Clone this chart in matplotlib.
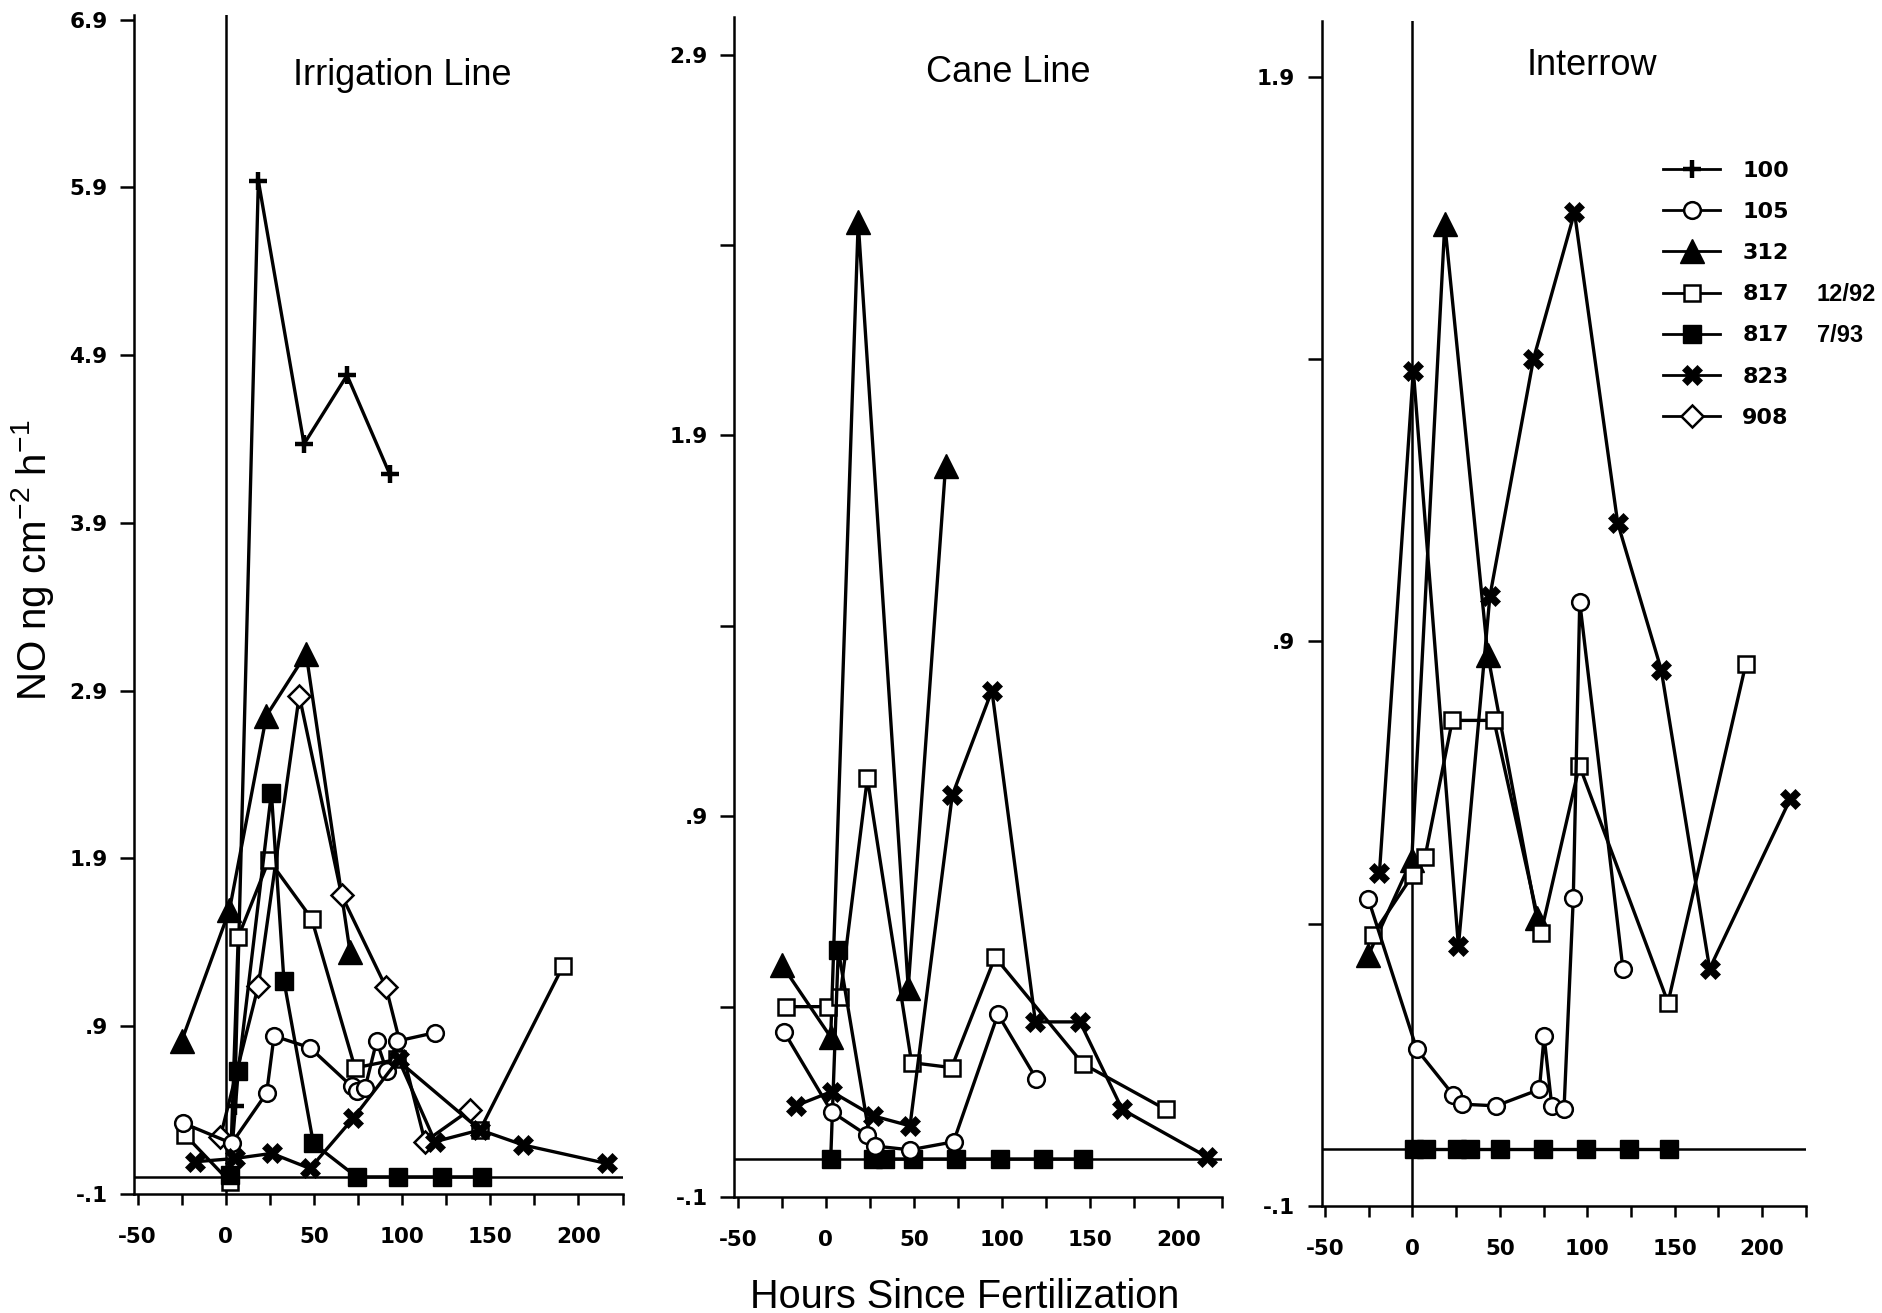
import matplotlib
matplotlib.use("Agg")
import matplotlib.pyplot as plt
from matplotlib.lines import Line2D

plt.rcParams['font.family'] = ['Liberation Sans', 'DejaVu Sans']
plt.rcParams['mathtext.fontset'] = 'custom'
plt.rcParams['mathtext.rm'] = 'Liberation Sans'
plt.rcParams['mathtext.default'] = 'regular'

# ---- data: hours since fertilization vs NO flux (ng cm-2 h-1) ----
# Irrigation Line
irr_100_x = [5, 18.5, 44.4, 68.8, 93]
irr_100_y = [0.42, 5.94, 4.37, 4.78, 4.19]
irr_105_x = [-24, 3.4, 23.2, 27.4, 47.8, 71.4, 74.2, 79, 85.6, 91.3, 97.3, 118.7]
irr_105_y = [0.32, 0.20, 0.50, 0.84, 0.77, 0.54, 0.51, 0.53, 0.81, 0.63, 0.81, 0.86]
irr_312_x = [-25, 2.1, 23.1, 45.6, 70.5]
irr_312_y = [0.81, 1.59, 2.75, 3.12, 1.34]
irr_817a_x = [-23, 2.4, 7.1, 24.5, 48.7, 73.3, 97, 144.2, 191.4]
irr_817a_y = [0.25, -0.03, 1.43, 1.89, 1.54, 0.65, 0.70, 0.28, 1.26]
irr_817b_x = [2.4, 7.1, 25.9, 33, 49.7, 74.2, 97.9, 122.4, 145.1]
irr_817b_y = [0.01, 0.63, 2.29, 1.17, 0.20, 0.0, 0.0, 0.0, 0.0]
irr_823_x = [-17.4, 5.3, 26.1, 47.8, 72.3, 98, 118.7, 144.2, 168.7, 216]
irr_823_y = [0.09, 0.11, 0.14, 0.05, 0.35, 0.70, 0.21, 0.28, 0.19, 0.08]
irr_908_x = [-3, 18.5, 41.7, 65.7, 90.9, 113, 138.5]
irr_908_y = [0.24, 1.14, 2.87, 1.68, 1.13, 0.21, 0.40]

# Cane Line
cane_105_x = [-23.7, 3.3, 23.2, 27.9, 47.8, 72.5, 97.7, 119.6]
cane_105_y = [0.334, 0.124, 0.063, 0.034, 0.024, 0.045, 0.38, 0.21]
cane_312_x = [-25, 2.8, 18.4, 46.8, 68]
cane_312_y = [0.51, 0.32, 2.46, 0.45, 1.82]
cane_817a_x = [-22.6, 1.4, 8.1, 23.6, 48.7, 71.4, 96.1, 145.9, 193]
cane_817a_y = [0.40, 0.40, 0.425, 1.00, 0.253, 0.24, 0.53, 0.25, 0.13]
cane_817b_x = [2.8, 7.1, 27, 33.6, 49.7, 74, 98.7, 123.4, 145.9]
cane_817b_y = [0.0, 0.55, 0.0, 0.0, 0.0, 0.0, 0.0, 0.0, 0.0]
cane_823_x = [-16.9, 3.3, 27, 47.8, 71.8, 94.3, 119, 144.3, 168.3, 216.6]
cane_823_y = [0.14, 0.177, 0.113, 0.087, 0.955, 1.23, 0.36, 0.36, 0.13, 0.005]

# Interrow
int_105_x = [-25.2, 2.5, 23.4, 28.2, 47.8, 72.6, 75.3, 79.7, 86.7, 92, 95.7, 120.4]
int_105_y = [0.443, 0.177, 0.096, 0.080, 0.077, 0.106, 0.20, 0.077, 0.071, 0.445, 0.97, 0.32]
int_312_x = [-25.2, -0.4, 18.5, 43.1, 71.1]
int_312_y = [0.344, 0.513, 1.64, 0.876, 0.41]
int_817a_x = [-22.7, 0.2, 7.2, 22.8, 46.6, 73.6, 95.5, 146.2, 190.7]
int_817a_y = [0.38, 0.486, 0.518, 0.76, 0.76, 0.384, 0.68, 0.26, 0.86]
int_817b_x = [1.0, 7.8, 25.5, 33, 49.8, 74.4, 99.4, 123.9, 146.9]
int_817b_y = [0.0, 0.0, 0.0, 0.0, 0.0, 0.0, 0.0, 0.0, 0.0]
int_823_x = [-18.9, 0.5, 26.3, 44.3, 69.2, 92.7, 117.4, 142.3, 170, 216]
int_823_y = [0.489, 1.38, 0.36, 0.98, 1.40, 1.66, 1.11, 0.85, 0.32, 0.62]

series_names = ['100', '105', '312', '817 12/92', '817 7/93', '823', '908']
legend_main = ['100', '105', '312', '817', '817', '823', '908']
legend_dates = {3: '12/92', 4: '7/93'}

x_major = [-50, 0, 50, 100, 150, 200]
x_major_labels = ['-50', '0', '50', '100', '150', '200']
x_minor = [-25, 25, 75, 125, 175, 225]

irr_yticks = [-0.1, 0.9, 1.9, 2.9, 3.9, 4.9, 5.9, 6.9]
irr_ylabels = ['-.1', '.9', '1.9', '2.9', '3.9', '4.9', '5.9', '6.9']
cane_yticks = [-0.1, 0.9, 1.9, 2.9]
cane_ylabels = ['-.1', '.9', '1.9', '2.9']
cane_yminor = [0.4, 1.4, 2.4]
int_yticks = [-0.1, 0.9, 1.9]
int_ylabels = ['-.1', '.9', '1.9']
int_yminor = [0.4, 1.4]

styles = {
    '100': dict(marker='+', ms=13, mew=3.2, mfc='black', mec='black'),
    '105': dict(marker='o', ms=12, mew=1.8, mfc='white', mec='black'),
    '312': dict(marker='^', ms=17, mew=1, mfc='black', mec='black'),
    '817 12/92': dict(marker='s', ms=12, mew=1.8, mfc='white', mec='black'),
    '817 7/93': dict(marker='s', ms=12.5, mew=1, mfc='black', mec='black'),
    '823': dict(marker='X', ms=14, mew=0.5, mfc='black', mec='black'),
    '908': dict(marker='D', ms=11, mew=1.8, mfc='white', mec='black'),
}

tick_font = dict(fontfamily='DejaVu Sans', fontweight='bold', fontsize=15.5)

fig = plt.figure(figsize=(18.82, 13.13), dpi=100)
ax1 = fig.add_axes([0.0712, 0.0909, 0.2596, 0.8979])
ax2 = fig.add_axes([0.3901, 0.0883, 0.2593, 0.8991])
ax3 = fig.add_axes([0.7022, 0.0817, 0.2573, 0.9026])


def draw(ax, name, x, y):
    ax.plot(x, y, color='black', lw=2.4, zorder=3, **styles[name])


draw(ax1, '100', irr_100_x, irr_100_y)
draw(ax1, '312', irr_312_x, irr_312_y)
draw(ax1, '908', irr_908_x, irr_908_y)
draw(ax1, '817 12/92', irr_817a_x, irr_817a_y)
draw(ax1, '817 7/93', irr_817b_x, irr_817b_y)
draw(ax1, '105', irr_105_x, irr_105_y)
draw(ax1, '823', irr_823_x, irr_823_y)

draw(ax2, '312', cane_312_x, cane_312_y)
draw(ax2, '817 12/92', cane_817a_x, cane_817a_y)
draw(ax2, '817 7/93', cane_817b_x, cane_817b_y)
draw(ax2, '105', cane_105_x, cane_105_y)
draw(ax2, '823', cane_823_x, cane_823_y)

draw(ax3, '823', int_823_x, int_823_y)
draw(ax3, '312', int_312_x, int_312_y)
draw(ax3, '817 12/92', int_817a_x, int_817a_y)
draw(ax3, '105', int_105_x, int_105_y)
draw(ax3, '817 7/93', int_817b_x, int_817b_y)

ax1.set_ylim(-0.1, 6.93)
ax2.set_ylim(-0.1, 3.0)
ax3.set_ylim(-0.1, 2.0)

ax1.set_yticks(irr_yticks, irr_ylabels, **tick_font)
ax2.set_yticks(cane_yticks, cane_ylabels, **tick_font)
ax2.set_yticks(cane_yminor, minor=True)
ax3.set_yticks(int_yticks, int_ylabels, **tick_font)
ax3.set_yticks(int_yminor, minor=True)

for ax in (ax1, ax2, ax3):
    ax.set_xlim(-52, 225)
    ax.set_xticks(x_major, x_major_labels, **tick_font)
    ax.set_xticks(x_minor, minor=True)
    ax.axhline(0, color='black', lw=1.8, zorder=1)
    ax.spines['top'].set_visible(False)
    ax.spines['right'].set_visible(False)
    ax.spines['left'].set_linewidth(1.8)
    ax.spines['bottom'].set_linewidth(1.8)
    ax.tick_params(axis='y', which='both', direction='out', length=10, width=1.8, pad=9)
    ax.tick_params(axis='x', which='both', direction='out', length=8, width=1.8, pad=16)
    ax.patch.set_alpha(0)

ax1.axvline(0, color='black', lw=1.8, zorder=1)
ax3.axvline(0, color='black', lw=1.8, zorder=1)

W, H = 1882, 1313
fig.text(402.5 / W, 1 - 85.4 / H, 'Irrigation Line', ha='center', va='baseline', fontsize=26)
fig.text(1008.7 / W, 1 - 82 / H, 'Cane Line', ha='center', va='baseline', fontsize=26)
fig.text(1591.5 / W, 1 - 75 / H, 'Interrow', ha='center', va='baseline', fontsize=26)
fig.text(33 / W, 1 - 560 / H, r'NO ng cm$^{-2}$ h$^{-1}$', rotation=90,
         ha='center', va='center', fontsize=29)
fig.text(965 / W, 1 - 1308 / H, 'Hours Since Fertilization', ha='center',
         va='baseline', fontsize=28.5)

handles = [Line2D([], [], color='black', lw=2, **styles[n]) for n in series_names]
leg = fig.legend(handles, legend_main, loc='upper left',
                 bbox_to_anchor=(1663 / W, 1 - 161 / H), frameon=False,
                 borderpad=0, borderaxespad=0, handlelength=2.57, handletextpad=1.0,
                 labelspacing=0.95, numpoints=1,
                 prop=dict(family='DejaVu Sans', weight='bold', size=16))

# second part of the 817 labels, aligned with the legend rows
fig.canvas.draw()
for i, date in legend_dates.items():
    bb = leg.get_texts()[i].get_window_extent()
    yc = 0.5 * (bb.y0 + bb.y1) / fig.bbox.height
    fig.text(1817 / W, yc, date, ha='left', va='center',
             fontsize=17, fontweight='bold')

fig.savefig('out.png', dpi=100)
